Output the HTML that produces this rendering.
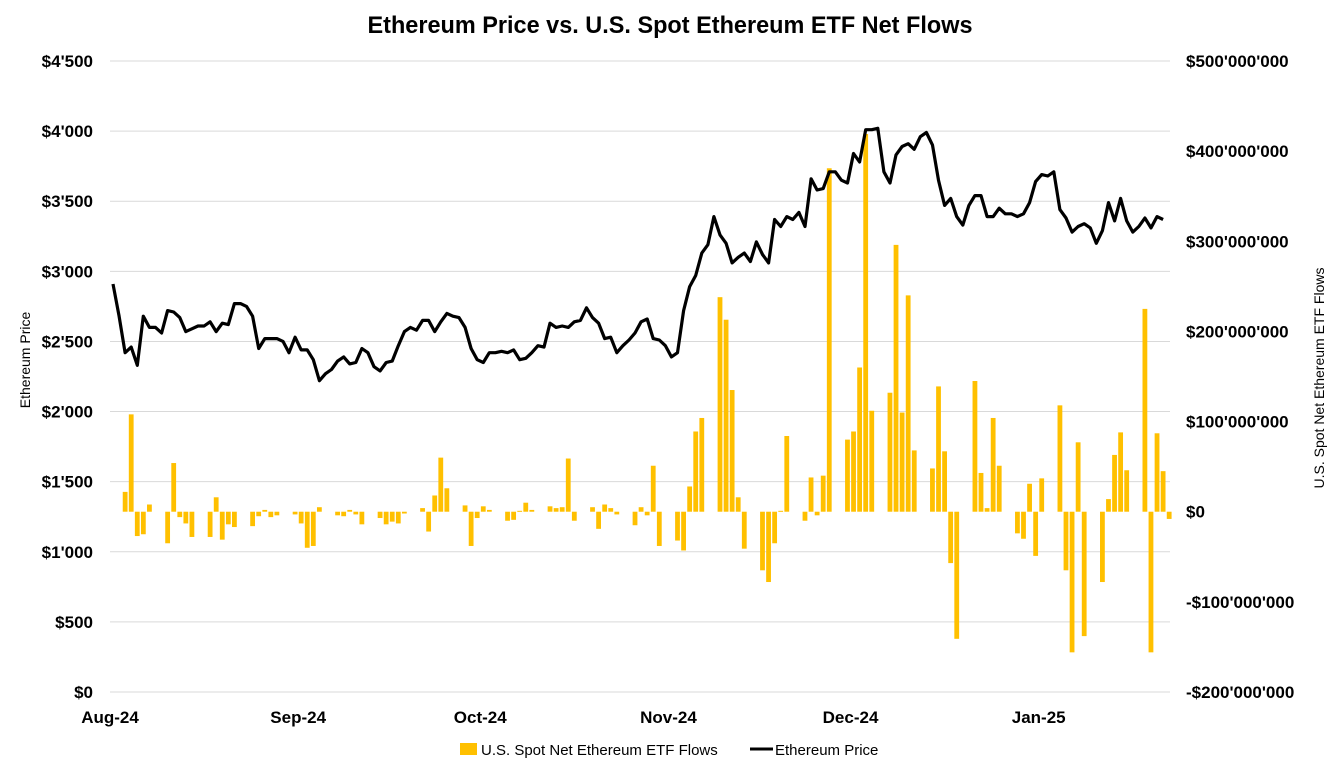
<!DOCTYPE html>
<html><head><meta charset="utf-8"><style>
html,body{margin:0;padding:0;background:#fff;width:1341px;height:770px;overflow:hidden}
svg text{font-family:"Liberation Sans Narrow","Liberation Sans",sans-serif;fill:#000}
</style></head><body>
<svg id="chart" width="1341" height="770" viewBox="0 0 1341 770" xmlns="http://www.w3.org/2000/svg">
<text x="670" y="33" text-anchor="middle" font-size="24" font-weight="bold" textLength="605" lengthAdjust="spacingAndGlyphs">Ethereum Price vs. U.S. Spot Ethereum ETF Net Flows</text>
<g id="grid"></g><g id="bars"></g><g id="line"></g><g id="axes"></g>
<text transform="translate(30,360) rotate(-90)" text-anchor="middle" font-size="14">Ethereum Price</text>
<text transform="translate(1324,378) rotate(-90)" text-anchor="middle" font-size="14">U.S. Spot Net Ethereum ETF Flows</text>
<g>
<rect x="460" y="743" width="17" height="12" fill="#FFC000"/>
<text x="481" y="755" font-size="15">U.S. Spot Net Ethereum ETF Flows</text>
<line x1="750" y1="749" x2="773" y2="749" stroke="#000" stroke-width="3"/>
<text x="775" y="755" font-size="15">Ethereum Price</text>
</g>
</svg>
<script>
const priceValues=[2910,2680,2420,2460,2330,2680,2600,2600,2560,2720,2710,2670,2570,2590,2610,2610,2640,2570,2630,2620,2770,2770,2750,2680,2450,2520,2520,2520,2500,2420,2530,2440,2440,2370,2220,2270,2300,2360,2390,2340,2350,2450,2420,2320,2290,2350,2360,2470,2570,
2600,2580,2650,2650,2570,2640,2700,2680,2670,2600,2450,2370,2350,2420,2420,2430,2420,2440,2370,2380,2420,2470,2460,2630,2600,2610,2600,2640,2650,2740,2670,2630,2520,2530,2420,2470,2510,2560,2640,2660,2520,2510,2470,
2390,2420,2720,2890,2970,3130,3190,3390,3260,3200,3060,3100,3130,3070,3210,3120,3060,3370,3320,3390,3370,3420,3320,3660,3580,3590,3710,3710,3650,3630,3840,3780,4010,4010,4020,3710,3630,3830,3890,3910,3870,3960,3990,3900,3650,3470,3520,3390,3330,3470,3540,3540,3390,3390,3450,3410,3410,3390,3410,3490,3640,3690,3680,3710,3440,3380,3280,3320,3340,3310,3200,3290,3490,3360,3520,3360,3280,3320,3380,3310,3390,3370];
const flowDays=[2,3,4,5,6,9,10,11,12,13,16,17,18,19,20,23,24,25,26,27,30,31,32,33,34,37,38,39,40,41,44,45,46,47,48,51,52,53,54,55,58,59,60,61,62,65,66,67,68,69,72,73,74,75,76,79,80,81,82,83,86,87,88,89,90,93,94,95,96,97,100,101,102,103,104,107,108,109,110,111,114,115,116,117,118,121,122,123,124,125,128,129,130,131,132,135,136,137,138,139,142,143,144,145,146,149,150,151,152,153,156,157,158,159,160,163,164,165,166,167,170,171,172,173,174];
const flowValues=[22,108,-27,-25,8,-35,54,-6,-13,-28,-28,16,-31,-14,-17,-16,-5,2,-6,-4,-3,-13,-40,-38,5,-4,-5,2,-3,-14,-7,-14,-11,-13,-2,4,-22,18,60,26,7,-38,-7,6,2,-10,-9,1,10,2,6,4,5,59,-10,5,-19,8,4,-3,-15,5,-4,51,-38,-32,-43,28,89,104,238,213,135,16,-41,-65,-78,-35,1,84,-10,38,-4,40,381,80,89,160,419,112,132,296,110,240,68,48,139,67,-57,-141,145,43,4,104,51,-24,-30,31,-49,37,118,-65,-156,77,-138,-78,14,63,88,46,225,-156,87,45,-8];
const leftTicks=["$0","$500","$1'000","$1'500","$2'000","$2'500","$3'000","$3'500","$4'000","$4'500"];
const rightTicks=["-$200'000'000","-$100'000'000","$0","$100'000'000","$200'000'000","$300'000'000","$400'000'000","$500'000'000"];
const monthLabels=["Aug-24","Sep-24","Oct-24","Nov-24","Dec-24","Jan-25"];
const monthStartDays=[0,31,61,92,122,153];

const NS="http://www.w3.org/2000/svg";
const X0=113,STEP=6.07,YB=692,YT=61,L=110,R=1170;
const xd=d=>X0+STEP*d;
const yP=v=>YB-(v/4500)*(YB-YT);
const yF=v=>YB-((v+200)/700)*(YB-YT);
function mk(tag,parent,attrs){const e=document.createElementNS(NS,tag);for(const k in attrs)e.setAttribute(k,attrs[k]);parent.appendChild(e);return e;}
const grid=document.getElementById('grid'),axes=document.getElementById('axes');
leftTicks.forEach((t,i)=>{const y=yP(i*500);
 const g=mk('line',grid,{x1:L,x2:R,y1:y,y2:y,stroke:'#d9d9d9','stroke-width':1});
 
 
 const tx=mk('text',axes,{x:93,y:y+6,'text-anchor':'end','font-size':17,'font-weight':'bold'});tx.textContent=t;
 
 
});
rightTicks.forEach((t,i)=>{const y=yF(-200+i*100);
 const tx=mk('text',axes,{x:1186,y:y+6,'font-size':17,'font-weight':'bold'});tx.textContent=t;
 
 
});
monthLabels.forEach((m,i)=>{const x=110+STEP*monthStartDays[i];
 const tx=mk('text',axes,{x:x,y:723,'text-anchor':'middle','font-size':17,'font-weight':'bold'});tx.textContent=m;
 
 
});
const bars=document.getElementById('bars');const y0=yF(0);
flowValues.forEach((v,i)=>{const x=xd(flowDays[i]);const y=yF(v);
 const b=mk('rect',bars,{x:x-2.4,y:Math.min(y,y0),width:4.8,height:Math.max(1,Math.abs(y-y0)),fill:'#FFC000'});
 
 
});
const pts=priceValues.map((v,i)=>xd(i).toFixed(1)+','+yP(v).toFixed(1)).join(' ');
const pl=mk('polyline',document.getElementById('line'),{points:pts,fill:'none',stroke:'#000','stroke-width':3.2,'stroke-linejoin':'round'});


</script>
</body></html>
